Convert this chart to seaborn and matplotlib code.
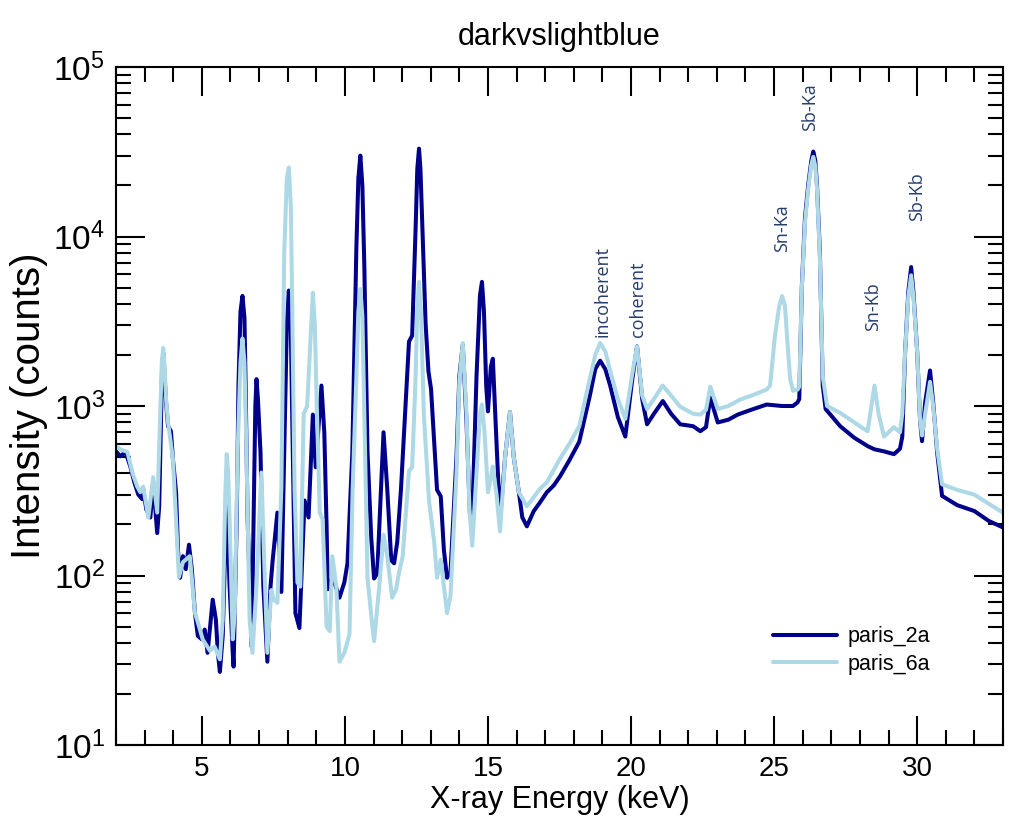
import numpy as np
import pandas as pd
import matplotlib
matplotlib.use("Agg")
import matplotlib.pyplot as plt
import seaborn as sns
from matplotlib.ticker import LogLocator, MultipleLocator, NullFormatter

# ---------------- data ----------------
dark_energy = [2.00, 2.15, 2.33, 2.50, 2.64, 2.78, 2.92, 2.95, 3.06, 3.20, 3.30, 3.44, 3.51, 3.61, 3.65,
               3.75, 3.82, 3.92, 3.99, 4.10, 4.17, 4.24, 4.34, 4.44, 4.55, 4.65, 4.76, 4.86, 5.00, 5.10,
               5.20, 5.38, 5.49, 5.56, 5.63, 5.73, 5.87, 5.97, 6.08, 6.11, 6.22, 6.28, 6.35, 6.42, 6.49,
               6.53, 6.60, 6.74, 6.81, 6.87, 6.91, 6.96, 7.05, 7.15, 7.29, 7.40, 7.47, 7.64, 7.78, 7.88,
               7.97, 8.04, 8.11, 8.18, 8.27, 8.41, 8.59, 8.73, 8.88, 8.98, 9.18, 9.28, 9.36, 9.40, 9.57,
               9.81, 9.98, 10.09, 10.26, 10.40, 10.47, 10.54, 10.61, 10.68, 10.79, 10.92, 11.02, 11.13,
               11.26, 11.35, 11.48, 11.62, 11.72, 11.83, 11.96, 12.10, 12.24, 12.35, 12.47, 12.53, 12.59,
               12.64, 12.69, 12.82, 12.92, 13.01, 13.22, 13.35, 13.46, 13.57, 13.69, 13.90, 14.00, 14.12,
               14.25, 14.37, 14.45, 14.60, 14.72, 14.79, 14.86, 14.94, 15.00, 15.10, 15.17, 15.30, 15.42,
               15.60, 15.77, 15.90, 16.08, 16.20, 16.36, 16.60, 16.82, 17.06, 17.30, 17.52, 17.85, 18.19,
               18.56, 18.75, 18.92, 19.10, 19.27, 19.54, 19.80, 20.03, 20.21, 20.39, 20.56, 20.80, 21.11,
               21.40, 21.72, 21.95, 22.17, 22.42, 22.62, 22.77, 23.03, 23.40, 23.73, 24.20, 24.74, 25.28,
               25.66, 25.82, 25.88, 25.97, 26.08, 26.19, 26.30, 26.37, 26.44, 26.50, 26.60, 26.70, 26.80,
               27.31, 27.80, 28.27, 28.51, 28.84, 29.19, 29.40, 29.48, 29.58, 29.69, 29.79, 29.87, 30.00,
               30.10, 30.17, 30.28, 30.45, 30.56, 30.70, 30.87, 31.40, 32.00, 32.50, 33.00]
dark_counts = [540, 505, 535, 440, 355, 300, 282, 323, 245, 220, 355, 178, 257, 1660, 2050,
               1050, 760, 710, 485, 310, 137, 97, 130, 109, 152, 109, 60, 44, 42, 48,
               35, 72, 55, 35, 27, 44, 295, 86, 35, 29, 215, 1320, 3600, 4460, 3300,
               1320, 215, 38, 215, 1000, 1440, 1100, 535, 86, 31, 86, 120, 235, 80, 535,
               3000, 4800, 2800, 500, 60, 49, 277, 220, 890, 435, 1320, 700, 195, 83, 98,
               74, 91, 118, 535, 8500, 22000, 30000, 20000, 6600, 535, 167, 96, 103,
               323, 700, 323, 123, 118, 158, 323, 890, 2400, 2600, 11000, 25000, 33000,
               25000, 14000, 3070, 1600, 1260, 320, 293, 141, 97, 104, 500, 1500, 2300,
               800, 230, 215, 1500, 4500, 5400, 3600, 1300, 930, 1700, 1900, 600, 215,
               500, 920, 500, 310, 220, 195, 240, 270, 310, 340, 385, 480, 615,
               1150, 1650, 1850, 1650, 1320, 860, 660, 1380, 2250, 1100, 780, 900, 1070,
               900, 780, 770, 760, 710, 750, 1120, 800, 830, 890, 950, 1020, 1000,
               1000, 1050, 1100, 5100, 12900, 20000, 28000, 31700, 28000, 20000, 8100, 1320, 960,
               760, 650, 580, 555, 540, 520, 560, 660, 2100, 4700, 6600, 4700, 2100,
               830, 620, 1050, 1620, 1050, 530, 295, 260, 240, 210, 192]

light_energy = [2.00, 2.15, 2.40, 2.57, 2.74, 2.85, 2.95, 3.13, 3.30, 3.44, 3.54, 3.60, 3.65, 3.70,
                3.75, 3.82, 3.99, 4.13, 4.20, 4.34, 4.44, 4.58, 4.76, 4.86, 5.03, 5.28, 5.45, 5.63,
                5.73, 5.82, 5.87, 5.92, 5.97, 6.08, 6.15, 6.25, 6.35, 6.42, 6.49, 6.56, 6.67, 6.77,
                6.91, 7.08, 7.19, 7.29, 7.43, 7.51, 7.64, 7.78, 7.88, 7.97, 8.04, 8.11, 8.15, 8.24,
                8.34, 8.44, 8.56, 8.68, 8.80, 8.88, 8.95, 9.01, 9.12, 9.22, 9.36, 9.47, 9.56, 9.70,
                9.81, 9.98, 10.16, 10.27, 10.40, 10.47, 10.54, 10.61, 10.68, 10.79, 10.95, 11.02,
                11.20, 11.35, 11.48, 11.65, 11.79, 11.90, 12.02, 12.24, 12.35, 12.47, 12.53, 12.59,
                12.66, 12.76, 12.94, 13.12, 13.22, 13.35, 13.57, 13.69, 13.90, 14.00, 14.12, 14.25,
                14.35, 14.45, 14.60, 14.72, 14.79, 14.88, 15.00, 15.17, 15.30, 15.42, 15.60, 15.77,
                15.90, 16.08, 16.36, 16.60, 16.82, 17.06, 17.30, 17.52, 17.85, 18.19, 18.56, 18.75,
                18.92, 19.10, 19.27, 19.54, 19.80, 20.03, 20.21, 20.39, 20.56, 20.80, 21.11, 21.40,
                21.72, 22.17, 22.42, 22.62, 22.77, 23.03, 23.40, 23.81, 24.20, 24.74, 24.86, 25.03,
                25.18, 25.28, 25.38, 25.45, 25.56, 25.66, 25.82, 25.88, 25.97, 26.08, 26.19, 26.30,
                26.37, 26.44, 26.50, 26.60, 26.70, 26.85, 27.31, 28.00, 28.27, 28.40, 28.51, 28.65,
                28.84, 29.19, 29.40, 29.48, 29.58, 29.69, 29.79, 29.87, 30.00, 30.10, 30.17, 30.28,
                30.45, 30.56, 30.70, 30.87, 31.40, 32.00, 32.50, 33.00]
light_counts = [580, 555, 535, 405, 335, 310, 335, 220, 380, 235, 830, 1800, 2200, 1700,
                1100, 800, 485, 170, 98, 120, 124, 130, 60, 53, 42, 36, 38, 32,
                55, 300, 520, 400, 215, 42, 60, 535, 1800, 2500, 1800, 535, 55, 35,
                86, 405, 109, 35, 82, 72, 69, 335, 8100, 22000, 25500, 15000, 5000, 323,
                91, 86, 900, 1000, 2500, 4650, 3000, 1120, 235, 215, 50, 47, 130, 86,
                31, 35, 45, 323, 1470, 3600, 4900, 3400, 890, 96, 52, 41,
                86, 174, 130, 74, 83, 106, 130, 415, 435, 1470, 3800, 5400,
                3500, 880, 275, 158, 97, 124, 60, 76, 400, 1400, 2350, 900,
                250, 150, 400, 900, 1020, 700, 310, 440, 300, 182, 500, 920,
                500, 310, 256, 290, 325, 355, 420, 490, 600, 760, 1450, 2000,
                2350, 2100, 1620, 1100, 840, 1500, 2250, 1150, 960, 1100, 1320, 1150,
                990, 900, 890, 950, 1300, 960, 1000, 1090, 1150, 1250, 1320, 2600,
                3900, 4450, 3900, 2600, 1450, 1230, 1250, 1300, 5000, 12000, 19000, 26500,
                29500, 26000, 19000, 7500, 1500, 1000, 910, 760, 710, 1000, 1320, 900,
                660, 750, 700, 900, 2100, 4400, 5900, 4400, 2100, 830, 670, 900,
                1390, 1000, 560, 345, 320, 300, 265, 235]

annot_labels = ["incoherent", "coherent", "Sn-Ka", "Sb-Ka", "Sn-Kb", "Sb-Kb"]
annot_energy = [18.99, 20.24, 25.28, 26.26, 28.46, 30.00]
annot_base = [2570, 2570, 8150, 42000, 2760, 12300]

# ---------------- figure ----------------
sns.set_style("ticks")
plt.rcParams["font.family"] = ["Liberation Sans", "DejaVu Sans"]
plt.rcParams["mathtext.default"] = "regular"
plt.rcParams["text.color"] = "black"
plt.rcParams["axes.labelcolor"] = "black"
plt.rcParams["xtick.color"] = "black"
plt.rcParams["ytick.color"] = "black"

df = pd.concat([
    pd.DataFrame({"energy": dark_energy, "counts": dark_counts, "sample": "paris_2a"}),
    pd.DataFrame({"energy": light_energy, "counts": light_counts, "sample": "paris_6a"}),
], ignore_index=True)

fig = plt.figure(figsize=(10.09, 8.32), dpi=100)
ax = fig.add_axes([116 / 1009, 87 / 832, 887 / 1009, 678 / 832])

sns.lineplot(data=df, x="energy", y="counts", hue="sample",
             palette={"paris_2a": "darkblue", "paris_6a": "lightblue"},
             estimator=None, sort=False, linewidth=2.9, legend=False, ax=ax)
for ln in ax.get_lines()[:2]:
    ln.set_solid_joinstyle("round")

ax.set_yscale("log")
ax.set_xlim(2, 33)
ax.set_ylim(10, 1e5)

ax.xaxis.set_major_locator(MultipleLocator(5))
ax.xaxis.set_minor_locator(MultipleLocator(1))
ax.yaxis.set_major_locator(LogLocator(base=10, numticks=10))
ax.yaxis.set_minor_locator(LogLocator(base=10, subs=np.arange(2, 10), numticks=100))
ax.yaxis.set_minor_formatter(NullFormatter())

ax.tick_params(which="both", direction="in", top=True, right=True, width=1.5, colors="black")
ax.tick_params(which="major", length=21, pad=8)
ax.tick_params(which="minor", length=11)
ax.tick_params(axis="x", which="major", labelsize=20)
ax.tick_params(axis="y", which="major", labelsize=24, pad=8)
for s in ax.spines.values():
    s.set_linewidth(1.5)
    s.set_color("black")

ax.set_xlabel("X-ray Energy (keV)", fontsize=22, labelpad=2, color="black")
ax.set_ylabel("Intensity (counts)", fontsize=29, labelpad=4, color="black")
ax.set_title("darkvslightblue", fontsize=22, pad=16, color="black")

for lab, e, b in zip(annot_labels, annot_energy, annot_base):
    ax.text(e, b, lab, rotation=90, ha="center", va="bottom", fontsize=13,
            color="#253d6d", fontfamily=["Open Sans", "DejaVu Sans"])

lines = ax.get_lines()[:2]
leg = ax.legend(lines, ["paris_2a", "paris_6a"], loc="lower right",
                bbox_to_anchor=(0.94, 0.075), frameon=False, fontsize=15.5,
                handlelength=3.0, handletextpad=0.5, labelspacing=0.3)
for t in leg.get_texts():
    t.set_color("black")

fig.savefig("out.png", dpi=100)
